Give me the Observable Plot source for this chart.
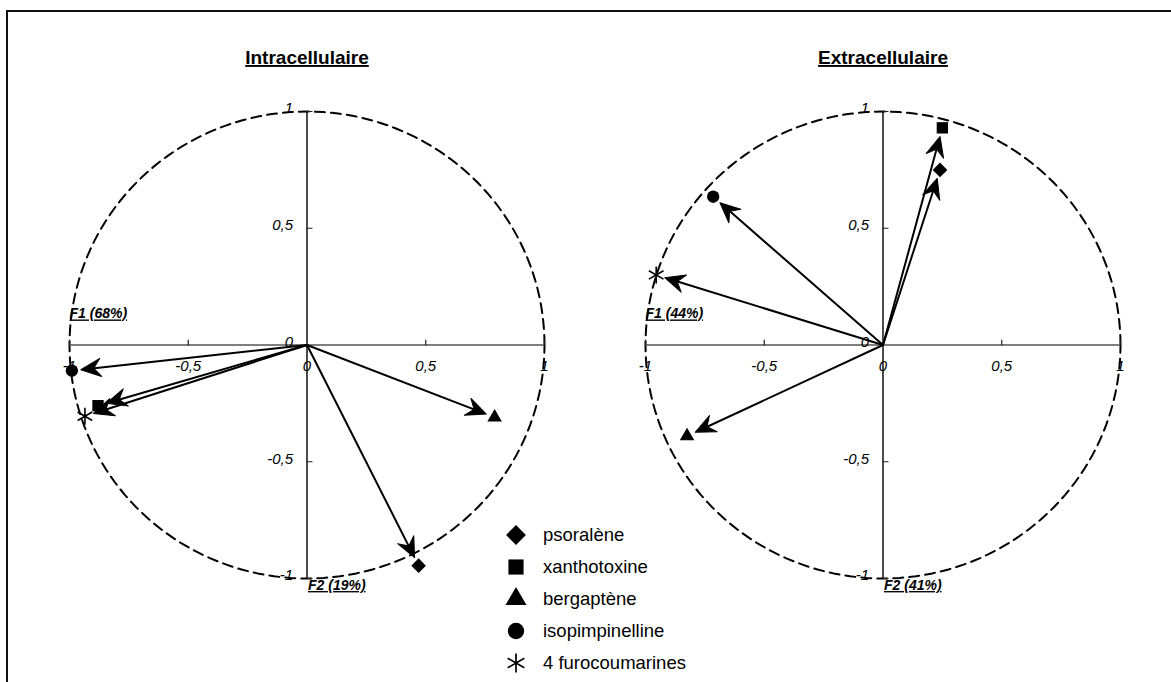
<!DOCTYPE html>
<html><head><meta charset="utf-8">
<script src="https://cdn.jsdelivr.net/npm/d3@7"></script>
<script src="https://cdn.jsdelivr.net/npm/@observablehq/plot@0.6"></script>
<style>
body{margin:0;background:#fff;font-family:"Liberation Sans",Arial,sans-serif;}
#wrap{position:relative;width:1171px;height:682px;overflow:hidden;background:#fff;}
#wrap svg.plot{position:absolute;left:0;top:0;}
#frame{position:absolute;left:6px;top:10px;right:-10px;bottom:-10px;border-top:2px solid #111;border-left:2px solid #111;pointer-events:none;}
#legend{position:absolute;left:505px;top:519px;}
.row{display:flex;align-items:center;height:32px;font-size:18.5px;color:#000;}
.row svg{width:22px;height:22px;margin-right:16px;overflow:visible;}
</style></head><body>
<div id="wrap"><div id="frame"></div><div id="legend"></div></div>
<script>
// ---- data ----
const panels = ["Intracellulaire", "Extracellulaire"];
const variables = ["psoralène", "xanthotoxine", "bergaptène", "isopimpinelline", "4 furocoumarines"];
const intraF1 = [0.47, -0.88, 0.79, -0.99, -0.935];
const intraF2 = [-0.945, -0.26, -0.31, -0.11, -0.305];
const extraF1 = [0.24, 0.25, -0.825, -0.715, -0.955];
const extraF2 = [0.75, 0.93, -0.39, 0.635, 0.30];
const f1Labels = ["F1 (68%)", "F1 (44%)"];
const f2Labels = ["F2 (19%)", "F2 (41%)"];
const tickValues = [-1, -0.5, 0.5, 1];
const labelValues = [-1, -0.5, 0, 0.5, 1];

// ---- styles ----
const symbols = [d3.symbolDiamond2, d3.symbolSquare, d3.symbolTriangle, d3.symbolCircle, d3.symbolAsterisk];
const symbolR = [6.6, 6.4, 5.4, 6.2, 8];         // px radius per symbol (chart)
const legendSize = [250, 230, 190, 210, 260];     // d3.symbol area per symbol (legend)

// ---- tables built from arrays ----
const F1 = [intraF1, extraF1], F2 = [intraF2, extraF2];
const points = panels.flatMap((p, i) => variables.map((v, j) => ({panel: p, name: v, k: j, x: F1[i][j], y: F2[i][j]})));
const panelRows = panels.map((p, i) => ({panel: p, f1: f1Labels[i], f2: f2Labels[i]}));
const ticks = panels.flatMap(p => tickValues.map(v => ({panel: p, v})));
const fmt = v => String(v).replace(".", ",");
const labels = panels.flatMap(p => labelValues.map(v => ({panel: p, v, t: fmt(v)})));
// unit correlation circle (reference geometry)
const circle = panels.flatMap(p => d3.range(0, 361, 2).map(a => ({panel: p, x: Math.cos(a * Math.PI / 180), y: Math.sin(a * Math.PI / 180)})));

const tickShape = {draw(ctx, l) { ctx.moveTo(0, 0); ctx.lineTo(0, -l); }};
// barbed filled arrowhead, tip at the vector's start, pointing "up"
const headShape = {draw(ctx) { ctx.moveTo(0, 0); ctx.lineTo(-9, 20); ctx.lineTo(0, 13); ctx.lineTo(9, 20); ctx.closePath(); }};
const isStar = d => d.k === 4;

const plot = Plot.plot({
  width: 1171, height: 682,
  marginLeft: 68.5, marginRight: 49.7, marginTop: 111, marginBottom: 104,
  x: {domain: [-1, 1], axis: null},
  y: {domain: [-1, 1], axis: null},
  r: {type: "identity"},
  fx: {domain: panels, axis: null, paddingInner: 0.1748, paddingOuter: 0},
  symbol: {domain: variables, range: symbols},
  style: {fontFamily: "'Liberation Sans', Arial, sans-serif", background: "transparent", overflow: "visible"},
  marks: [
    Plot.line(circle, {fx: "panel", x: "x", y: "y", z: "panel", stroke: "#000", strokeWidth: 2, strokeDasharray: "10,6"}),
    Plot.ruleY(panelRows, {fx: "panel", y: 0, x1: -1, x2: 1, stroke: "#555", strokeWidth: 1.3}),
    Plot.ruleX(panelRows, {fx: "panel", x: 0, y1: -1, y2: 1, stroke: "#111", strokeWidth: 1.5}),
    Plot.vector(ticks, {fx: "panel", x: "v", y: 0, length: 5, rotate: 0, anchor: "start", shape: tickShape, stroke: "#222", strokeWidth: 1.2}),
    Plot.vector(ticks, {fx: "panel", x: 0, y: "v", length: 5, rotate: 90, anchor: "start", shape: tickShape, stroke: "#222", strokeWidth: 1.2}),
    Plot.text(labels, {fx: "panel", x: "v", y: 0, text: "t", dy: 21, fontSize: 15, fontStyle: "italic", fill: "#000"}),
    Plot.text(labels, {fx: "panel", x: 0, y: "v", text: "t", dx: -14, dy: -3, textAnchor: "end", fontSize: 15, fontStyle: "italic", fill: "#000"}),
    Plot.text(panelRows, {fx: "panel", x: -1, y: 0, text: "f1", textAnchor: "start", dy: -31, fontSize: 14, fontWeight: "bold", fontStyle: "italic", className: "uline"}),
    Plot.text(panelRows, {fx: "panel", x: 0, y: -1, text: "f2", textAnchor: "start", dx: 1, dy: 7, fontSize: 14, fontWeight: "bold", fontStyle: "italic", className: "uline"}),
    Plot.text(panelRows, {fx: "panel", text: "panel", frameAnchor: "top", dy: -61, fontSize: 19, fontWeight: "bold", className: "uline"}),
    Plot.arrow(points, {fx: "panel", x1: 0, y1: 0, x2: "x", y2: "y", insetEnd: 18, headLength: 0, stroke: "#000", strokeWidth: 2}),
    Plot.vector(points, {fx: "panel", x: "x", y: "y", length: 9, anchor: "end",
      rotate: d => 90 - Math.atan2(d.y, d.x) * 180 / Math.PI, shape: headShape, fill: "#000", stroke: "#000", strokeWidth: 1}),
    Plot.dot(points, {filter: d => !isStar(d), fx: "panel", x: "x", y: "y", symbol: "name", r: d => symbolR[d.k], fill: "#000", stroke: "none"}),
    Plot.dot(points, {filter: isStar, fx: "panel", x: "x", y: "y", symbol: "name", r: d => symbolR[d.k], fill: "none", stroke: "#000", strokeWidth: 1.6})
  ]
});
plot.classList.add("plot");
d3.select(plot).selectAll(".uline text").style("text-decoration", "underline");
const wrap = document.getElementById("wrap");
wrap.insertBefore(plot, wrap.firstChild);

// ---- legend ----
const legend = d3.select("#legend");
variables.forEach((v, i) => {
  const row = legend.append("div").attr("class", "row");
  const svg = row.append("svg").attr("viewBox", "-11 -11 22 22");
  const isLine = symbols[i] === d3.symbolAsterisk;
  svg.append("path").attr("d", d3.symbol(symbols[i], legendSize[i])())
    .attr("fill", isLine ? "none" : "#000").attr("stroke", isLine ? "#000" : "none").attr("stroke-width", 1.7);
  row.append("span").text(v);
});
</script>
</body></html>
